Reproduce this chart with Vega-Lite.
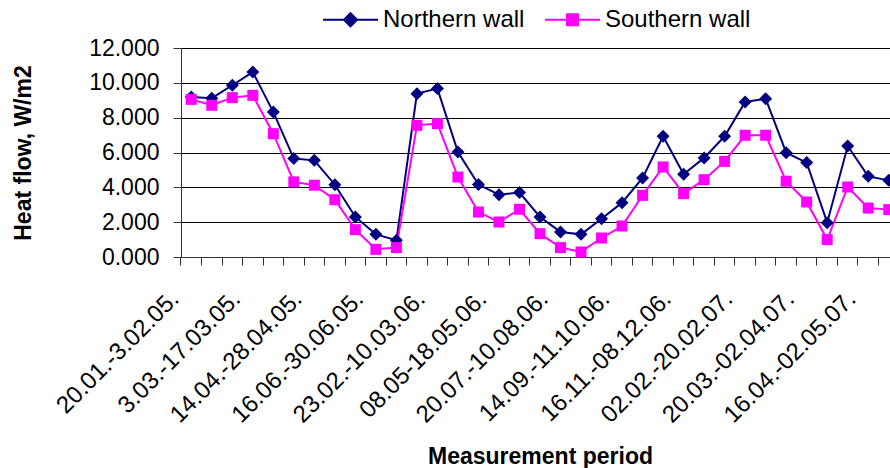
{
  "$schema": "https://vega.github.io/schema/vega-lite/v6.json",
  "autosize": {"type": "none"},
  "width": 718,
  "height": 209,
  "padding": {"left": 181, "top": 48, "right": 0, "bottom": 211},
  "background": "white",
  "datasets": {
    "src": [
      {"n": 1, "period": "20.01.-3.02.05.", "Northern wall": 9.18, "Southern wall": 9.05},
      {"n": 2, "period": "", "Northern wall": 9.12, "Southern wall": 8.71},
      {"n": 3, "period": "", "Northern wall": 9.86, "Southern wall": 9.15},
      {"n": 4, "period": "3.03.-17.03.05.", "Northern wall": 10.62, "Southern wall": 9.28},
      {"n": 5, "period": "", "Northern wall": 8.32, "Southern wall": 7.08},
      {"n": 6, "period": "", "Northern wall": 5.65, "Southern wall": 4.31},
      {"n": 7, "period": "14.04.-28.04.05.", "Northern wall": 5.55, "Southern wall": 4.12},
      {"n": 8, "period": "", "Northern wall": 4.15, "Southern wall": 3.29},
      {"n": 9, "period": "", "Northern wall": 2.30, "Southern wall": 1.57},
      {"n": 10, "period": "16.06.-30.06.05.", "Northern wall": 1.30, "Southern wall": 0.44},
      {"n": 11, "period": "", "Northern wall": 0.96, "Southern wall": 0.54},
      {"n": 12, "period": "", "Northern wall": 9.38, "Southern wall": 7.56},
      {"n": 13, "period": "23.02.-10.03.06.", "Northern wall": 9.67, "Southern wall": 7.66},
      {"n": 14, "period": "", "Northern wall": 6.03, "Southern wall": 4.59},
      {"n": 15, "period": "", "Northern wall": 4.16, "Southern wall": 2.58},
      {"n": 16, "period": "08.05-18.05.06.", "Northern wall": 3.58, "Southern wall": 2.01},
      {"n": 17, "period": "", "Northern wall": 3.70, "Southern wall": 2.74},
      {"n": 18, "period": "", "Northern wall": 2.30, "Southern wall": 1.34},
      {"n": 19, "period": "20.07.-10.08.06.", "Northern wall": 1.44, "Southern wall": 0.54},
      {"n": 20, "period": "", "Northern wall": 1.30, "Southern wall": 0.29},
      {"n": 21, "period": "", "Northern wall": 2.20, "Southern wall": 1.09},
      {"n": 22, "period": "14.09.-11.10.06.", "Northern wall": 3.12, "Southern wall": 1.78},
      {"n": 23, "period": "", "Northern wall": 4.54, "Southern wall": 3.54},
      {"n": 24, "period": "", "Northern wall": 6.93, "Southern wall": 5.17},
      {"n": 25, "period": "16.11.-08.12.06.", "Northern wall": 4.75, "Southern wall": 3.64},
      {"n": 26, "period": "", "Northern wall": 5.69, "Southern wall": 4.44},
      {"n": 27, "period": "", "Northern wall": 6.93, "Southern wall": 5.49},
      {"n": 28, "period": "02.02.-20.02.07.", "Northern wall": 8.90, "Southern wall": 6.99},
      {"n": 29, "period": "", "Northern wall": 9.09, "Southern wall": 6.99},
      {"n": 30, "period": "", "Northern wall": 5.99, "Southern wall": 4.35},
      {"n": 31, "period": "20.03.-02.04.07.", "Northern wall": 5.42, "Southern wall": 3.16},
      {"n": 32, "period": "", "Northern wall": 1.97, "Southern wall": 1.00},
      {"n": 33, "period": "", "Northern wall": 6.37, "Southern wall": 4.02},
      {"n": 34, "period": "16.04.-02.05.07.", "Northern wall": 4.63, "Southern wall": 2.81},
      {"n": 35, "period": "", "Northern wall": 4.40, "Southern wall": 2.72}
    ]
  },
  "data": {"name": "src"},
  "transform": [
    {"fold": ["Northern wall", "Southern wall"], "as": ["series", "value"]}
  ],
  "encoding": {
    "x": {
      "field": "n",
      "type": "ordinal",
      "scale": {"type": "band", "paddingInner": 0, "paddingOuter": 0},
      "axis": {
        "title": "Measurement period",
        "bandPosition": 0,
        "labelAngle": -45,
        "labelAlign": "right",
        "labelBaseline": "middle",
        "labelPadding": 30,
        "labelOffset": -16,
        "labelOverlap": false,
        "labelBound": false,
        "labelFlush": false,
        "labelExpr": "data('src')[datum.value - 1].period",
        "labelFontSize": 24,
        "tickSize": 8,
        "grid": false,
        "titleFontSize": 23,
        "titleFontWeight": "bold",
        "titleBaseline": "alphabetic",
        "titleY": 206
      }
    },
    "y": {
      "field": "value",
      "type": "quantitative",
      "scale": {"domain": [0, 12], "nice": false, "zero": true},
      "axis": {
        "title": "Heat flow, W/m2",
        "values": [0, 2, 4, 6, 8, 10, 12],
        "format": ".3f",
        "grid": true,
        "gridColor": "#000000",
        "gridOpacity": 1,
        "tickSize": 8,
        "labelPadding": 14,
        "labelFontSize": 23,
        "titleFontSize": 23,
        "titleFontWeight": "bold",
        "titleBaseline": "alphabetic",
        "titleX": -151
      }
    },
    "color": {
      "field": "series",
      "type": "nominal",
      "scale": {"domain": ["Northern wall", "Southern wall"], "range": ["#000080", "#FF00FF"]},
      "legend": {
        "title": null,
        "orient": "none",
        "direction": "horizontal",
        "legendX": 141,
        "legendY": -57,
        "padding": 0,
        "symbolSize": 3025,
        "symbolStrokeWidth": 2,
        "labelOffset": 4,
        "columnPadding": 16,
        "labelFontSize": 24,
        "labelColor": "#000000",
        "encode": {
          "symbols": {
            "update": {
              "shape": {"signal": "datum.index === 0 ? 'M-1,0L1,0M0,-0.24L0.24,0L0,0.24L-0.24,0Z' : 'M-1,0L1,0M-0.2,-0.2L0.2,-0.2L0.2,0.2L-0.2,0.2Z'"},
              "size": {"value": 3025},
              "fill": {"scale": "color", "field": "value"},
              "stroke": {"scale": "color", "field": "value"},
              "strokeWidth": {"value": 2},
              "opacity": {"value": 1}
            }
          }
        }
      }
    }
  },
  "layer": [
    {"mark": {"type": "line", "strokeWidth": 2}},
    {
      "transform": [{"filter": "datum.series === 'Northern wall'"}],
      "mark": {"type": "point", "filled": true, "opacity": 1, "shape": "diamond", "size": 169}
    },
    {
      "transform": [{"filter": "datum.series === 'Southern wall'"}],
      "mark": {"type": "point", "filled": true, "opacity": 1, "shape": "square", "size": 121}
    }
  ],
  "config": {
    "font": "Liberation Sans",
    "view": {"stroke": null},
    "axis": {
      "domainColor": "#333333",
      "tickColor": "#333333",
      "labelColor": "#000000",
      "titleColor": "#000000",
      "labelFont": "Liberation Sans",
      "titleFont": "Liberation Sans"
    },
    "legend": {"labelFont": "Liberation Sans"}
  }
}
